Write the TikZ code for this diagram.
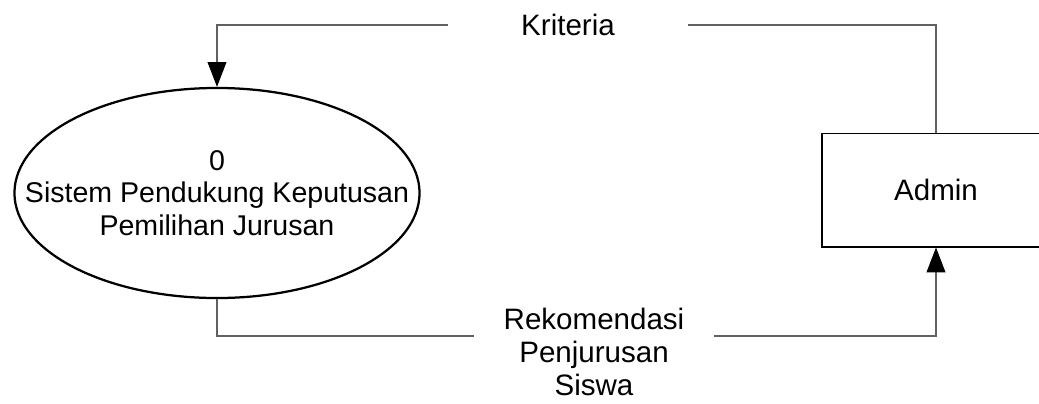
\documentclass[tikz,border=0pt]{standalone}
\usepackage{fontspec}
\setmainfont{Liberation Sans}
\usetikzlibrary{arrows.meta,shapes.geometric}

\begin{document}
\begin{tikzpicture}[x=0.025cm, y=-0.025cm,
    huruf/.style={font=\fontsize{21}{23.5}\selectfont},
    aliran/.style={draw=black!62, line width=0.9pt},
    panah/.style={-{Triangle[length=0.62cm, width=0.47cm, color=black]}},
    teks/.style={huruf, fill=white, text width=6cm, align=center, inner sep=0pt},
    proses/.style={ellipse, draw=black, line width=1.6pt, minimum width=10.125cm, minimum height=5.25cm, inner sep=0pt},
    entitas/.style={rectangle, draw=black, line width=1.4pt, minimum width=5.7cm, minimum height=2.825cm, huruf}]

    \useasboundingbox (0, 0) rectangle (1039, 403);

    % proses dan entitas
    \node[proses] (proc) at (217, 193) {};
    \node[font=\fontsize{20.3}{23.3}\selectfont, align=center, inner sep=0pt] (proctext) at (proc.center) {0\\Sistem Pendukung Keputusan\\Pemilihan Jurusan};
    \node[entitas] (admin) at (936, 190) {Admin};

    % aliran data
    \coordinate (kriteria) at (568, 25);
    \coordinate (rekomendasi) at (598, 336);
    \draw[aliran, panah] (admin.north) |- (kriteria) -| (proc.north);
    \draw[aliran, panah] (proc.south) |- (rekomendasi) -| (admin.south);

    \node[teks] (krit) at (kriteria) {Kriteria};
    \node[teks, anchor=north] (rekom) at (594, 308) {Rekomendasi\\Penjurusan\\Siswa};

  \end{tikzpicture}
\end{document}
